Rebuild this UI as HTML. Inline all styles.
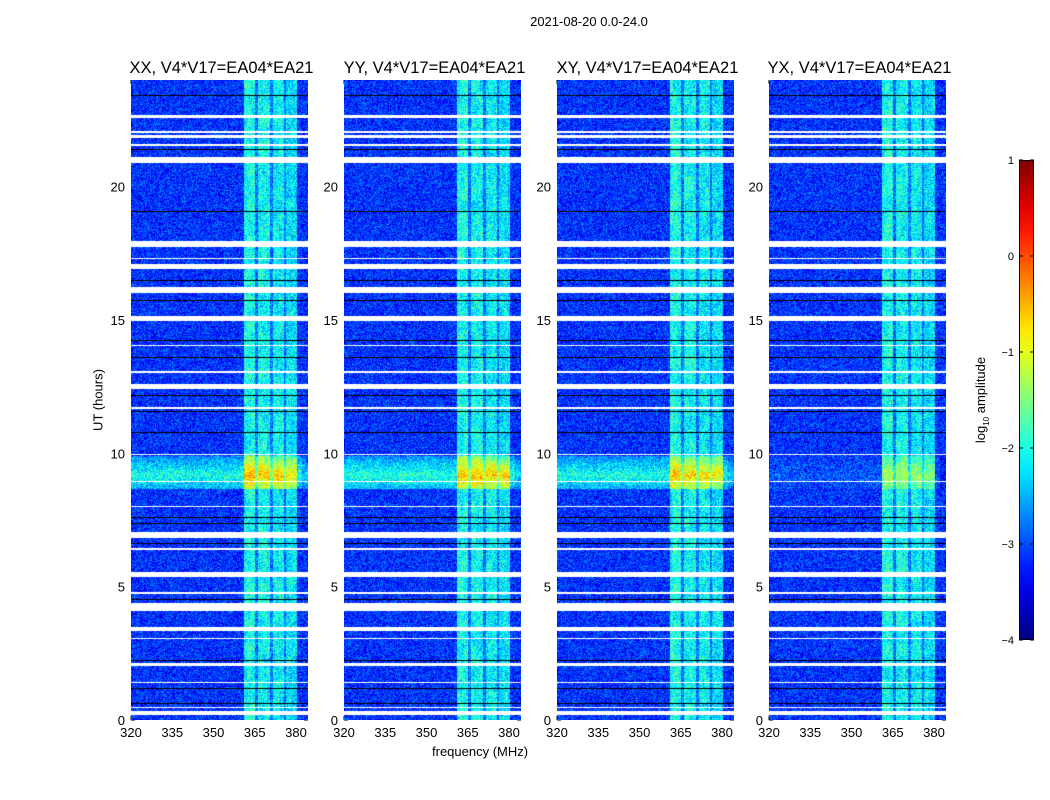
<!DOCTYPE html>
<html><head><meta charset="utf-8">
<style>
body{margin:0;background:#fff;font-family:"Liberation Sans",sans-serif;}
#root{position:relative;width:1050px;height:800px;overflow:hidden;}
.t{position:absolute;color:#000;white-space:nowrap;}
canvas{position:absolute;}
</style></head>
<body>
<div id="root">
<div class="t" style="left:589px;top:14px;font-size:13px;transform:translateX(-50%)">2021-08-20 0.0-24.0</div>
<div class="t" style="left:432px;top:744px;font-size:13px;">frequency (MHz)</div>
<div class="t" style="left:98px;top:400px;font-size:13px;transform:translate(-50%,-50%) rotate(-90deg)">UT (hours)</div>
<div class="t" style="left:982px;top:400px;font-size:13px;transform:translate(-50%,-50%) rotate(-90deg)">log<sub style="font-size:8px">10</sub> amplitude</div>
<svg id="ov" width="1050" height="800" style="position:absolute;left:0;top:0"></svg>
</div>
<script>
// ---- data ----
const panelNames = ["XX","YY","XY","YX"];
const panelLeft = [131,344,557,769];
const rfiStrength = [1.0,1.05,1.0,0.55];
const xTicks = [320,335,350,365,380];
const yTicks = [0,5,10,15,20];
const cbTicks = [1,0,-1,-2,-3,-4];
const brightBands = [[360.8,365,1.05],[366,370.3,1.0],[371.3,375.3,0.95],[376.2,380.3,0.85]];
const bandEnvelope = [360.8,380.3];
const whiteFlags = [[22.6,22.72],[22.05,22.1],[21.85,21.95],[21.55,21.6],[20.9,21.12],[17.75,17.97],[17.3,17.34],[16.95,17.1],[16.05,16.25],[15.0,15.15],[14.05,14.08],[13.05,13.1],[12.45,12.6],[11.7,11.75],[9.95,10.0],[8.95,8.99],[8.0,8.05],[6.85,7.05],[6.4,6.45],[5.4,5.55],[4.75,4.8],[4.1,4.4],[3.35,3.5],[3.05,3.1],[2.05,2.15],[1.4,1.45],[0.2,0.35],[0.48,0.52]];
const blackLines = [23.45,22.7,21.4,19.1,16.5,15.75,14.25,13.6,12.2,11.6,10.8,7.6,7.4,6.65,4.55,2.25,1.2,0.65];
const rfiBand = [8.7,9.9];

// ---- geometry ----
const PW=177, PT=80, PH=640, F0=320, MHZPX=2.75;
const fx = f => (f-F0)*MHZPX;
const hy = h => PH - h*PH/24;
const root = document.getElementById('root');
function hash(a,b,c){let h=(a*374761393+b*668265263+c*2147483647)|0;h=(h^(h>>>13))*1274126177;h=h^(h>>>16);return ((h>>>0)%10000)/10000;}
function jet(t){t=Math.max(0,Math.min(1,t));const c=v=>Math.round(255*Math.max(0,Math.min(1,v)));return [c(1.5-Math.abs(4*t-3)),c(1.5-Math.abs(4*t-2)),c(1.5-Math.abs(4*t-1))];}

panelNames.forEach((nm,p)=>{
  const cv=document.createElement('canvas');
  cv.width=PW;cv.height=PH;cv.style.left=panelLeft[p]+'px';cv.style.top=PT+'px';
  
  
  root.appendChild(cv);
  const ctx=cv.getContext('2d');const img=ctx.createImageData(PW,PH);
  const blackRows=blackLines.map(b=>Math.round(hy(b)));
  for(let y=0;y<PH;y++){
    const h=(PH-y)*24/PH;
    let white=whiteFlags.some(w=>h>=w[0]&&h<=w[1]);
    let black=blackRows.includes(y);
    let rfi=0;
    if(h>=rfiBand[0]&&h<=rfiBand[1]){const d=Math.abs((h-9.2)/0.7);rfi=rfiStrength[p]*Math.max(0.3,1-d*0.6);}
    for(let x=0;x<PW;x++){
      const f=F0+x/MHZPX; const i=(y*PW+x)*4;
      let r,g,b;
      if(white){r=g=b=255;}
      else if(black){r=g=b=0;}
      else{
        let v=-3.15+(hash(x,y,p)-0.5)*1.0;
        let band=0;
        if(f>=bandEnvelope[0]&&f<=bandEnvelope[1]) band=0.35;
        brightBands.forEach(bb=>{if(f>=bb[0]&&f<=bb[1])band=bb[2];});
        v+=band*1.05*(0.85+0.3*hash(Math.floor(y/12),x>>2,p+7));
        if(rfi>0){ v+= band? rfi*1.45 : rfi*1.15*(p===3?0.3:1); if(f>382) v-=0.3; }
        const t=(v+4)/5; [r,g,b]=jet(t);
      }
      img.data[i]=r;img.data[i+1]=g;img.data[i+2]=b;img.data[i+3]=255;
    }
  }
  ctx.putImageData(img,0,0);
});

// ---- axes overlay ----
const svg=document.getElementById('ov');const NS='http://www.w3.org/2000/svg';
function el(t,a){const e=document.createElementNS(NS,t);for(const k in a)e.setAttribute(k,a[k]);svg.appendChild(e);return e;}
panelNames.forEach((nm,p)=>{
  const L=panelLeft[p];
  const fr=el('rect',{x:L+0.5,y:PT+0.5,width:PW-1,height:PH-1,fill:'none',stroke:'#000','stroke-width':1});
  
  
  const tt=el('text',{x:L+PW/2+2,y:PT-7,'font-size':16.5,'text-anchor':'middle','font-family':'Liberation Sans'});
  tt.textContent=nm+', V4*V17=EA04*EA21';
  
  
  xTicks.forEach(f=>{
    const x=L+fx(f);
    el('line',{x1:x,x2:x,y1:PT+PH,y2:PT+PH-4,stroke:'#000'});
    el('line',{x1:x,x2:x,y1:PT,y2:PT+4,stroke:'#000'});
    const tx=el('text',{x:x,y:PT+PH+17,'font-size':13,'text-anchor':'middle','font-family':'Liberation Sans'});
    tx.textContent=f;
    
    
  });
  yTicks.forEach(h=>{
    const y=PT+hy(h);
    el('line',{x1:L,x2:L+4,y1:y,y2:y,stroke:'#000'});
    el('line',{x1:L+PW,x2:L+PW-4,y1:y,y2:y,stroke:'#000'});
    const ty=el('text',{x:L-6,y:y+5,'font-size':13,'text-anchor':'end','font-family':'Liberation Sans'});
    ty.textContent=h;
    
    
  });
});
// colorbar
const CBX=1019,CBW=15,CBT=160,CBH=480;
const defs=el('defs',{});const lg=document.createElementNS(NS,'linearGradient');
lg.setAttribute('id','jg');lg.setAttribute('x1','0');lg.setAttribute('y1','1');lg.setAttribute('x2','0');lg.setAttribute('y2','0');
defs.appendChild(lg);
for(let k=0;k<=20;k++){const c=jet(k/20);const s=document.createElementNS(NS,'stop');s.setAttribute('offset',k/20);s.setAttribute('stop-color','rgb('+c.join(',')+')');lg.appendChild(s);}
const cb=el('rect',{x:CBX+0.5,y:CBT+0.5,width:CBW-1,height:CBH-1,fill:'url(#jg)',stroke:'#000'});


cbTicks.forEach(v=>{
  const y=CBT+(1-v)/5*CBH;
  el('line',{x1:CBX,x2:CBX+4,y1:y,y2:y,stroke:'#000'});
  el('line',{x1:CBX+CBW,x2:CBX+CBW-4,y1:y,y2:y,stroke:'#000'});
  const t=el('text',{x:CBX-5,y:y+4,'font-size':11,'text-anchor':'end','font-family':'Liberation Sans'});
  t.textContent=v<0?'\u2212'+(-v):String(v);
  
  
});
</script>
</body></html>
